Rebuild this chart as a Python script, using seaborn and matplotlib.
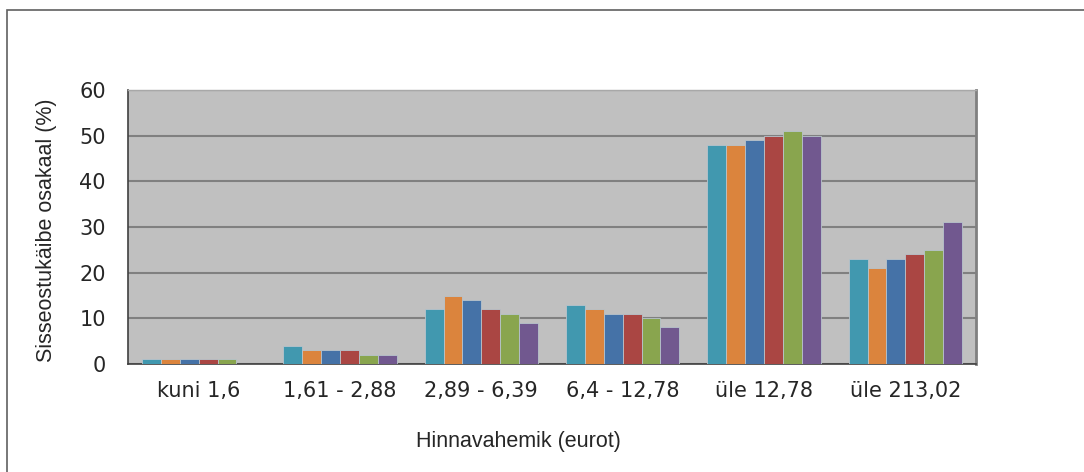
import pandas as pd
import numpy as np
import matplotlib
matplotlib.use("Agg")
import matplotlib.pyplot as plt
import seaborn as sns
from matplotlib.patches import Rectangle

categories = ["kuni 1,6", "1,61 - 2,88", "2,89 - 6,39", "6,4 - 12,78", "üle 12,78", "üle 213,02"]
series_names = ["s1", "s2", "s3", "s4", "s5", "s6"]
s1 = [1, 4, 12, 13, 48, 23]
s2 = [1, 3, 15, 12, 48, 21]
s3 = [1, 3, 14, 11, 49, 23]
s4 = [1, 3, 12, 11, 50, 24]
s5 = [1, 2, 11, 10, 51, 25]
s6 = [0, 2, 9, 8, 50, 31]
colors = ["#4198AF", "#DB843D", "#4572A7", "#AA4643", "#89A54E", "#71588F"]


def main():
    rows = []
    for name, vals in zip(series_names, [s1, s2, s3, s4, s5, s6]):
        for cat, v in zip(categories, vals):
            rows.append({"cat": cat, "series": name, "value": v})
    df = pd.DataFrame(rows)

    sns.set_style("white")
    plt.rcParams["font.family"] = ["DejaVu Sans"]

    fig = plt.figure(figsize=(10.84, 4.72), dpi=100)
    ax = fig.add_axes([128 / 1084, 1 - 364 / 472, (976 - 128) / 1084, (364 - 90) / 472])
    ax.set_facecolor("#C0C0C0")

    sns.barplot(data=df, x="cat", y="value", hue="series", palette=colors,
                saturation=1, width=0.8, ax=ax, legend=False,
                edgecolor="#B8C4CC", linewidth=0.6, zorder=3)

    ax.set_ylim(0, 60)
    ax.set_xlim(-0.5, 5.5)
    ax.set_yticks(range(0, 61, 10))
    ax.yaxis.grid(True, color="#808080", linewidth=1.5, zorder=0)
    ax.set_axisbelow(True)

    ax.set_xticks(range(6))
    ax.set_xticklabels(categories, fontsize=15)
    ax.set_xticks(np.arange(-0.5, 6, 1), minor=True)
    ax.tick_params(axis="x", which="major", length=0, pad=12)
    ax.tick_params(axis="x", which="minor", length=6, width=1, color="#404040", direction="out")
    ax.tick_params(axis="y", length=6, width=1, color="#404040", direction="out", labelsize=15, pad=10)

    for side in ["left", "bottom"]:
        ax.spines[side].set_color("#404040")
        ax.spines[side].set_linewidth(1.2)
    ax.spines["right"].set_color("#808080")
    ax.spines["right"].set_linewidth(2)
    ax.spines["top"].set_color("#A8A8A8")
    ax.spines["top"].set_linewidth(1)

    ax.set_xlabel("Hinnavahemik (eurot)", fontsize=15.5, family="Liberation Sans")
    ax.xaxis.set_label_coords((518 - 128) / 848, -(442 - 364) / 274)
    ax.xaxis.label.set_va("center")
    ax.set_ylabel("Sisseostukäibe osakaal (%)", fontsize=15.5, family="Liberation Sans")
    ax.yaxis.set_label_coords(-(128 - 47) / 848, (364 - 230) / 274)
    ax.yaxis.label.set_va("center")

    fig.patches.append(Rectangle((7 / 1084, -0.1), 1.2, 1 - 10 / 472 + 0.1,
                                 transform=fig.transFigure, fill=False,
                                 edgecolor="#606060", linewidth=1.2))

    fig.savefig("out.png", dpi=100)
    plt.close(fig)


if __name__ == "__main__":
    main()
